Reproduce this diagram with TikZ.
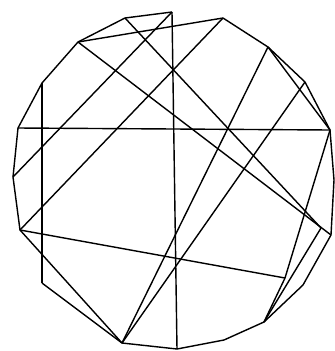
\documentclass[tikz,border=0pt]{standalone}
\begin{document}
\begin{tikzpicture}[x=0.03cm, y=-0.03cm, line width=1.2pt, line join=round]
    % 1. Khung hình
    \useasboundingbox (0,0) rectangle (335,351);

    % 2. Các đỉnh trên đường tròn
    \coordinate (A1) at (172,12);
    \coordinate (A2) at (223,18);
    \coordinate (A3) at (268,47);
    \coordinate (A4) at (305,82);
    \coordinate (A5) at (330,130);
    \coordinate (A6) at (334,180);
    \coordinate (A7) at (331,235);
    \coordinate (A7b) at (321,228);
    \coordinate (V) at (285,278);
    \coordinate (A8) at (303,285);
    \coordinate (A9) at (264,322);
    \coordinate (A10) at (224,340);
    \coordinate (A11) at (177,349);
    \coordinate (A12) at (122,343);
    \coordinate (A14) at (42,283);
    \coordinate (A15) at (20,230);
    \coordinate (A16) at (13,177);
    \coordinate (A17) at (18,128);
    \coordinate (A18) at (42,83);
    \coordinate (A19) at (78,42);
    \coordinate (A20) at (125,18);

    % 3. Viền ngoài
    \draw (A15) -- (A16) -- (A17) -- (A18) -- (A19) -- (A20) -- (A1);
    \draw (A14) -- (A12) -- (A11) -- (A10) -- (A9) -- (A8) -- (A7)
        -- (A6) -- (A5) -- (A4) -- (A3) -- (A2);

    % 4. Các dây cung
    \draw (A1) -- (A11);
    \draw (A17) -- (A5);
    \draw (A18) -- (A14);
    \draw (A2) -- (A15);
    \draw (A16) -- (A1);
    \draw (A19) -- (A7);
    \draw (A20) -- (A7b);
    \draw (A2) -- (A19);
    \draw (A3) -- (A12);
    \draw (A4) -- (A12);
    \draw (A15) -- (A12);
    \draw (A15) -- (V);
    \draw (A3) -- (A5);
    \draw (A5) -- (V) -- (A9);
    \draw (A7b) -- (A9);
\end{tikzpicture}
\end{document}
